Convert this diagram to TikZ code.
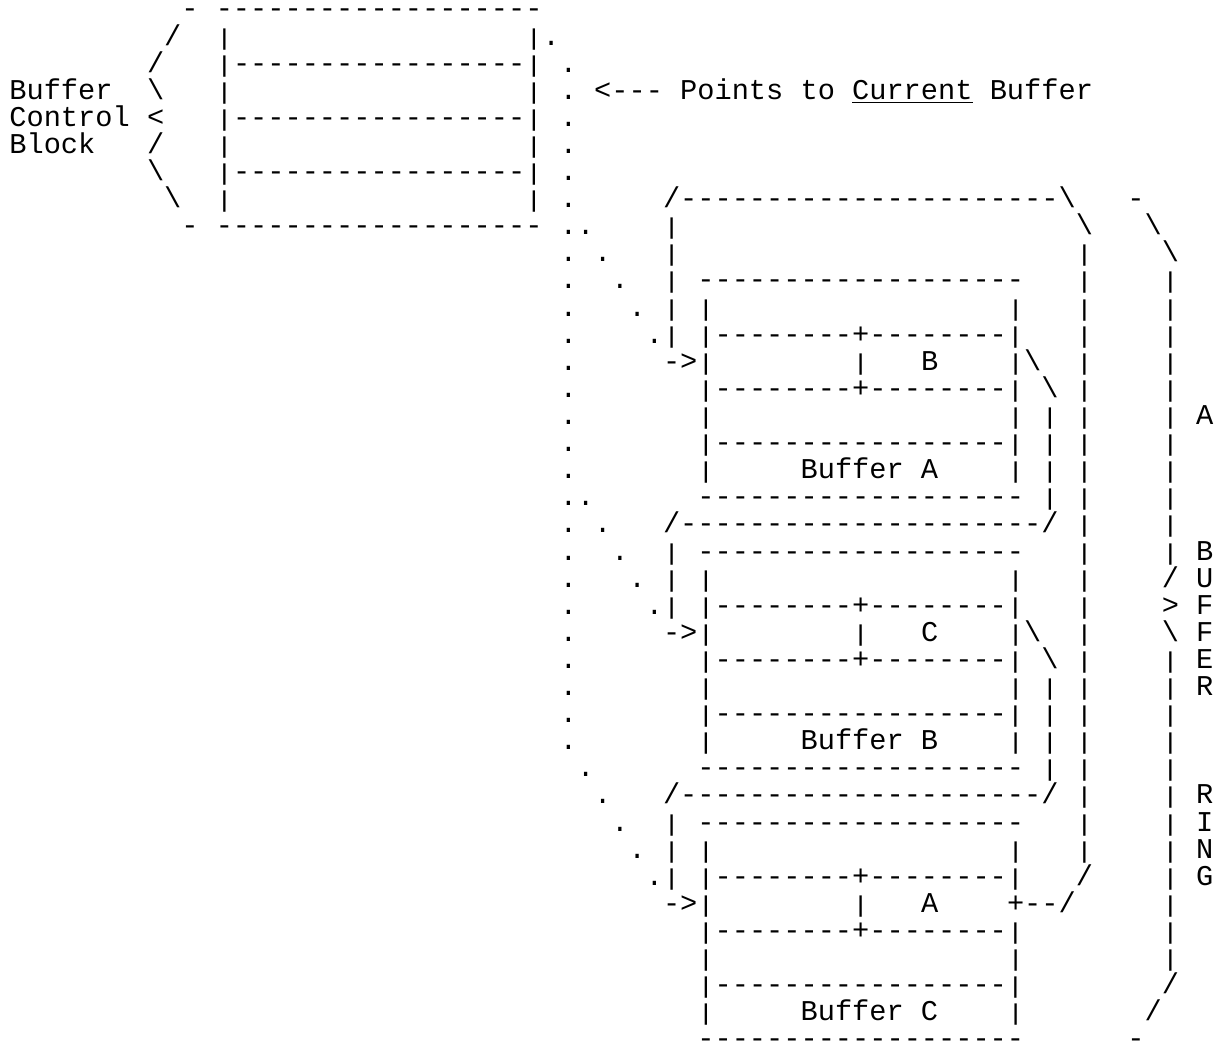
\documentclass[tikz,border=0pt]{standalone}
\usepackage{graphicx}
\usepackage{fontspec}
\setmonofont{Liberation Mono}
\tikzset{asc/.style={anchor=base west,inner sep=0pt,outer sep=0pt,text height=0.3em,text depth=0pt,font=\ttfamily\fontsize{14.33pt}{16pt}\selectfont}}
\newcommand\sg[3]{\node[asc] (n#1-#2) at ({4.7pt+#2*8.6pt},{-9pt-#1*13.55pt}) {#3};}
\newcommand\vb{\scalebox{1}[0.8]{|}}
\begin{document}
\begin{tikzpicture}
\fill[white] (0,0) rectangle (612.5pt,-523.5pt);
\path[use as bounding box] (0,0) rectangle (612.5pt,-523.5pt);
% buffer control block with brace
\sg{0}{10}{-}\sg{0}{12}{-------------------}
\sg{1}{9}{/}\sg{1}{12}{\vb}\sg{1}{30}{\vb}\sg{1}{31}{.}
\sg{2}{8}{/}\sg{2}{12}{\vb-----------------\vb}
\sg{3}{0}{Buffer}\sg{3}{8}{\textbackslash}\sg{3}{12}{\vb}\sg{3}{30}{\vb}
\sg{3}{34}{<--- Points to \underline{Current} Buffer}
\sg{4}{0}{Control}\sg{4}{8}{<}\sg{4}{12}{\vb-----------------\vb}
\sg{5}{0}{Block}\sg{5}{8}{/}\sg{5}{12}{\vb}\sg{5}{30}{\vb}
\sg{6}{8}{\textbackslash}\sg{6}{12}{\vb-----------------\vb}
\sg{7}{9}{\textbackslash}\sg{7}{12}{\vb}\sg{7}{30}{\vb}
\sg{8}{10}{-}\sg{8}{12}{-------------------}
% dotted pointers
\foreach \r in {2,...,27}{\sg{\r}{32}{.}}
\foreach \b in {8,18,28}{\foreach \k in {0,...,4}{%
  \pgfmathtruncatemacro\qr{\b+\k}\pgfmathtruncatemacro\qk{33+\k}\sg{\qr}{\qk}{.}}}
% outer ring
\sg{7}{38}{/----------------------\textbackslash}
\sg{8}{62}{\textbackslash}
\foreach \r in {9,...,31}{\sg{\r}{62}{\vb}}
\sg{32}{62}{/}
\foreach \r in {8,...,12}{\sg{\r}{38}{\vb}}
\foreach \r in {20,21,22,30,31,32}{\sg{\r}{38}{\vb}}
\sg{19}{38}{/---------------------/}
\sg{29}{38}{/---------------------/}
% buffers
\foreach \b/\L/\N in {10/B/A,20/C/B,30/A/C}{%
  \pgfmathtruncatemacro\qa{\b+1}\pgfmathtruncatemacro\qb{\b+2}%
  \pgfmathtruncatemacro\qc{\b+3}\pgfmathtruncatemacro\qd{\b+4}%
  \pgfmathtruncatemacro\qe{\b+5}\pgfmathtruncatemacro\qf{\b+6}%
  \pgfmathtruncatemacro\qg{\b+7}\pgfmathtruncatemacro\qh{\b+8}%
  \sg{\b}{40}{-------------------}
  \sg{\qa}{40}{\vb}\sg{\qa}{58}{\vb}
  \sg{\qb}{40}{\vb--------+--------\vb}
  \sg{\qc}{38}{->\vb}\sg{\qc}{49}{\vb}\sg{\qc}{53}{\L}
  \sg{\qd}{40}{\vb--------+--------\vb}
  \sg{\qe}{40}{\vb}\sg{\qe}{58}{\vb}
  \sg{\qf}{40}{\vb-----------------\vb}
  \sg{\qg}{40}{\vb}\sg{\qg}{46}{Buffer \N}\sg{\qg}{58}{\vb}
  \sg{\qh}{40}{-------------------}
}
\sg{13}{58}{\vb\textbackslash}\sg{14}{60}{\textbackslash}
\foreach \r in {15,...,18}{\sg{\r}{60}{\vb}}
\sg{23}{58}{\vb\textbackslash}\sg{24}{60}{\textbackslash}
\foreach \r in {25,...,28}{\sg{\r}{60}{\vb}}
\sg{33}{58}{+--/}
% buffer ring brace
\sg{7}{65}{-}\sg{8}{66}{\textbackslash}\sg{9}{67}{\textbackslash}
\foreach \r in {10,...,20}{\sg{\r}{67}{\vb}}
\foreach \r in {24,...,35}{\sg{\r}{67}{\vb}}
\sg{21}{67}{/}\sg{22}{67}{>}\sg{23}{67}{\textbackslash}
\sg{36}{67}{/}\sg{37}{66}{/}\sg{38}{65}{-}
\sg{15}{69}{A}
\sg{20}{69}{B}\sg{21}{69}{U}\sg{22}{69}{F}\sg{23}{69}{F}\sg{24}{69}{E}\sg{25}{69}{R}
\sg{29}{69}{R}\sg{30}{69}{I}\sg{31}{69}{N}\sg{32}{69}{G}
\end{tikzpicture}
\end{document}
